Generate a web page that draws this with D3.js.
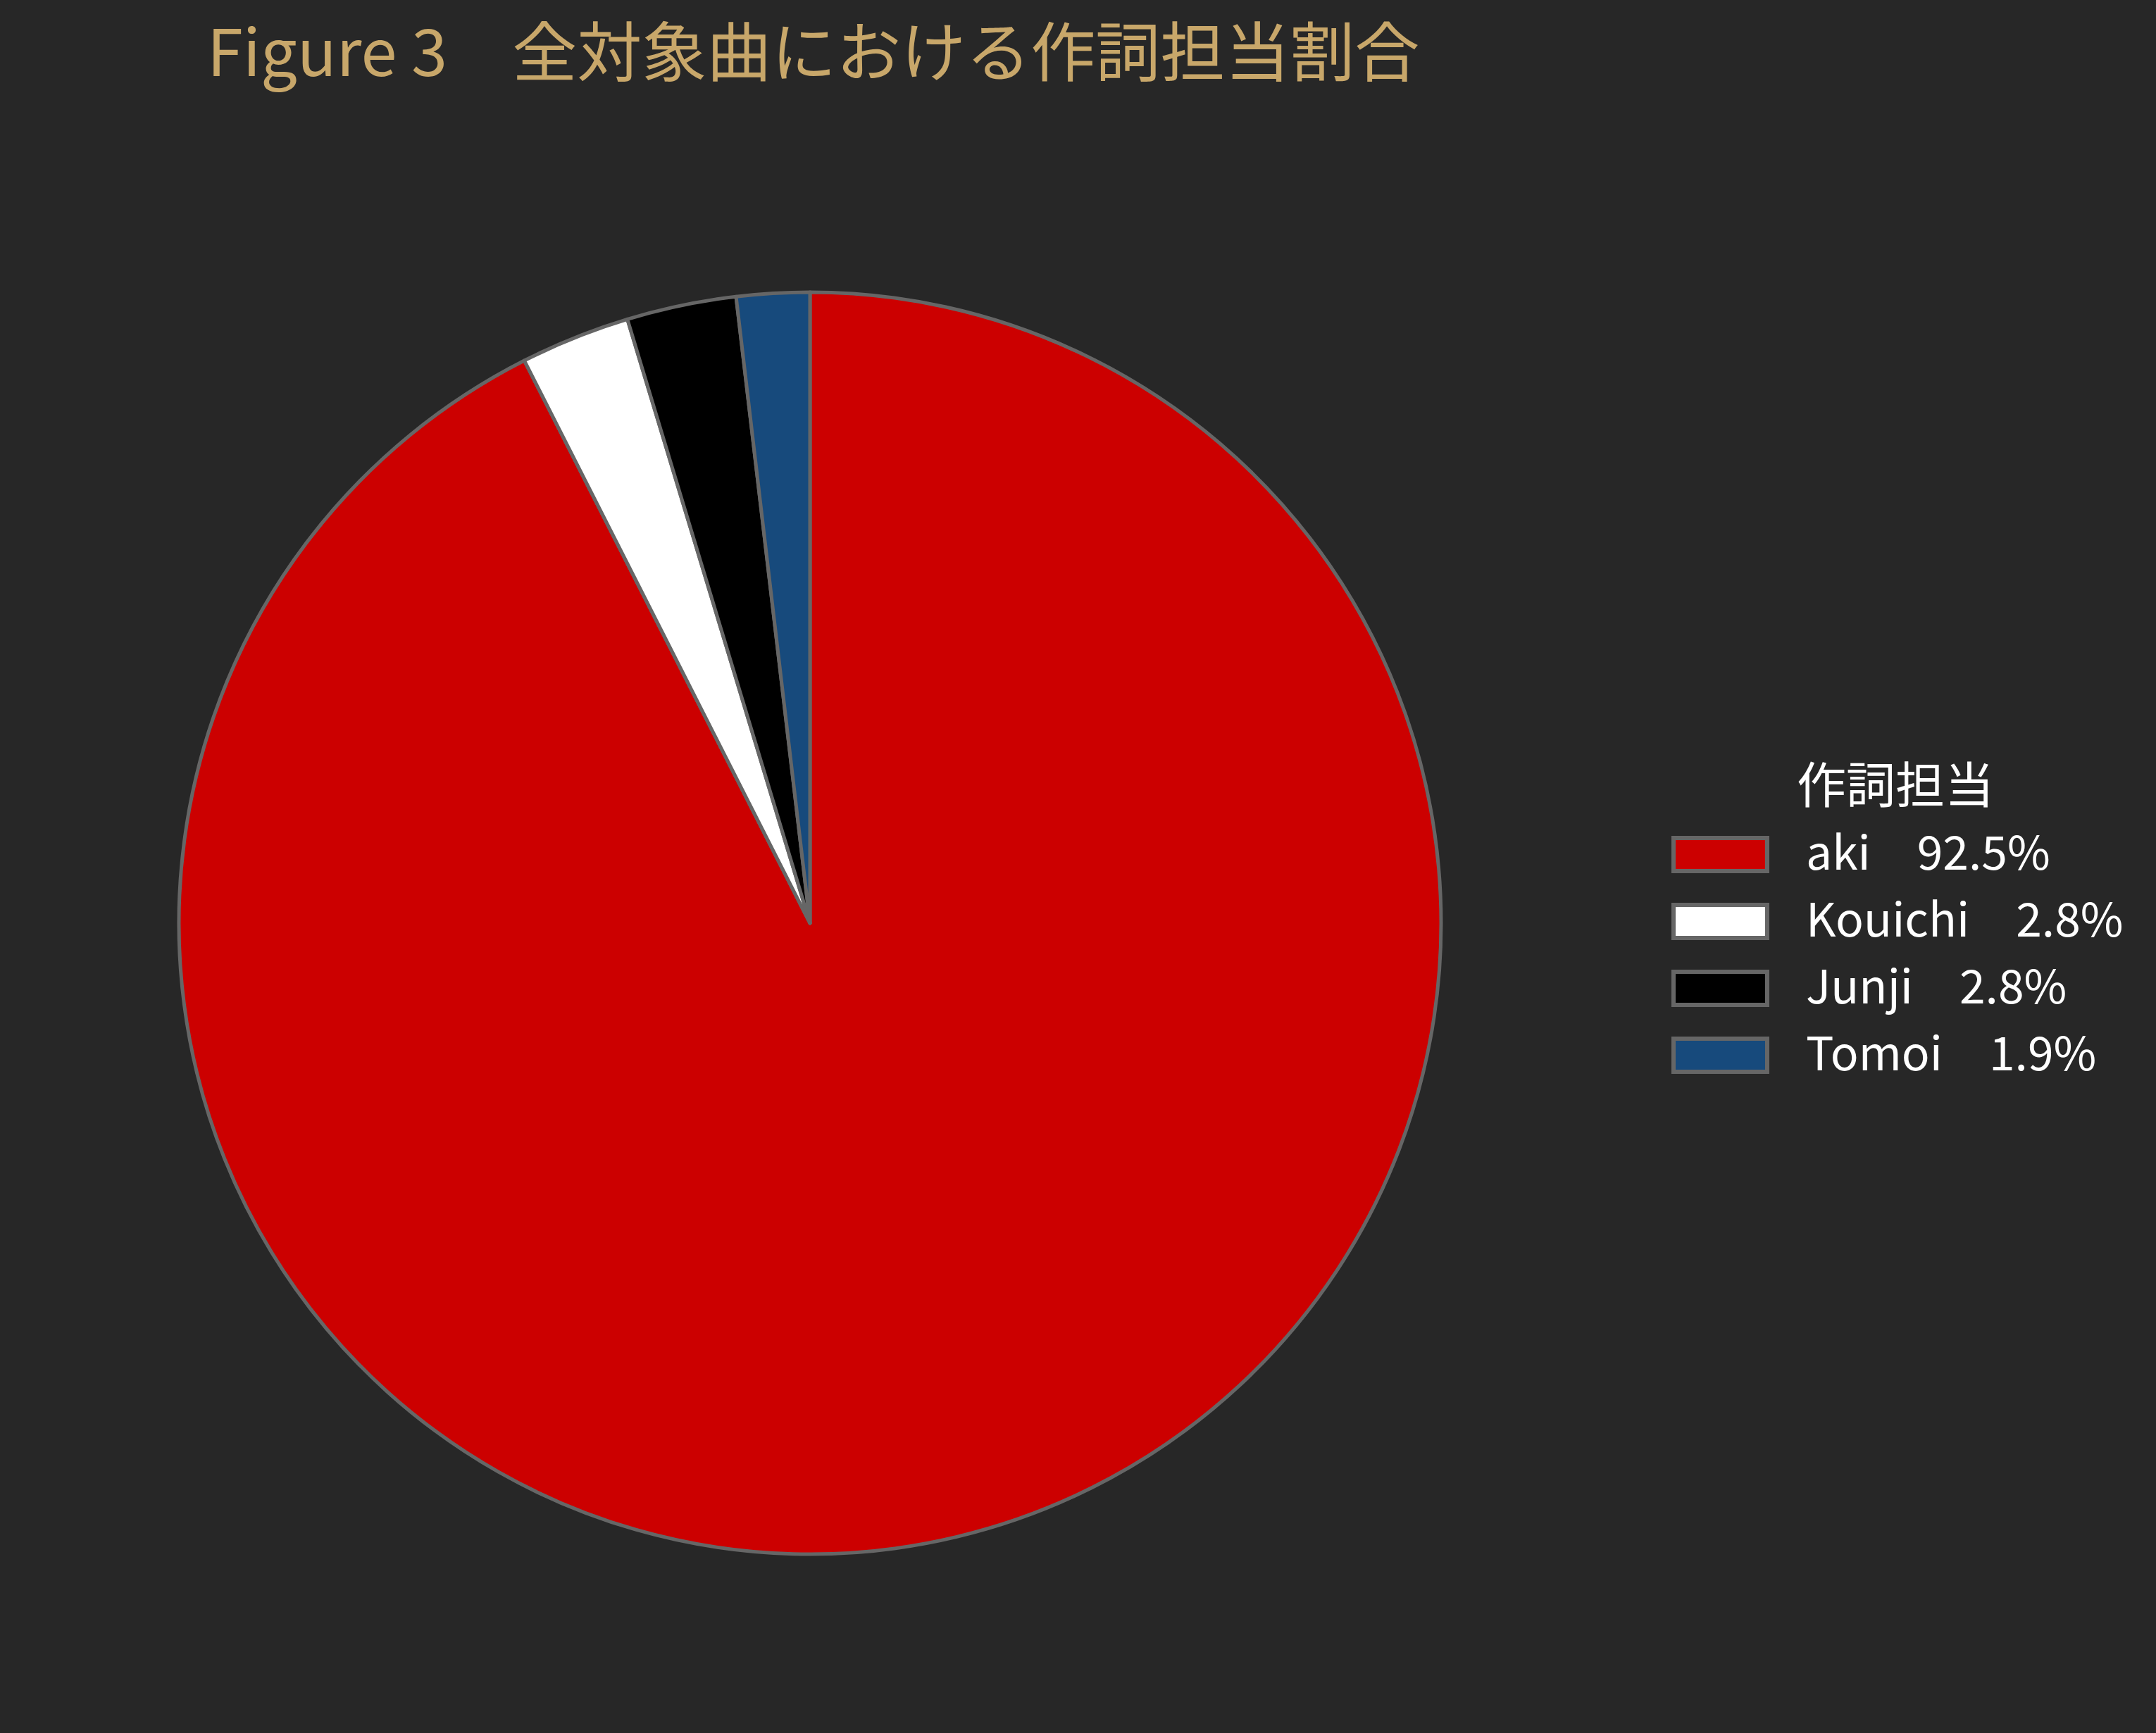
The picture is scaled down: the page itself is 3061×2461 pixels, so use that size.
<!DOCTYPE html>
<html><head><meta charset="utf-8">
<script src="https://cdn.jsdelivr.net/npm/d3@7"></script>
<style>html,body{margin:0;padding:0;background:#272727;}</style>
</head><body>
<script>
const titleText = "Figure 3\u3000全対象曲における作詞担当割合";
const legendTitle = "作詞担当";
const categories = ["aki", "Kouichi", "Junji", "Tomoi"];
const counts = [99, 3, 3, 2];
const colors = ["#CC0000", "#FFFFFF", "#000000", "#174A7C"];

const W = 3061, H = 2461;
const font = "'Noto Sans CJK JP', 'Noto Sans', sans-serif";
const svg = d3.select("body").append("svg").attr("width", W).attr("height", H)
  .style("background", "#272727");

svg.append("text").attr("x", 294).attr("y", 108)
  .attr("fill", "#C8A76A").attr("font-family", font).attr("font-size", 92)
  .text(titleText);

const total = d3.sum(counts);
const data = categories.map((c, i) => ({name: c, value: counts[i], color: colors[i]}));
const pie = d3.pie().sort(null).value(d => d.value);
const arc = d3.arc().innerRadius(0).outerRadius(896);
const color = d3.scaleOrdinal().domain(categories).range(colors);

const g = svg.append("g").attr("transform", "translate(1150,1311)");
g.selectAll("path").data(pie(data)).join("path")
  .attr("d", arc).attr("fill", d => color(d.data.name))
  .attr("stroke", "#666666").attr("stroke-width", 5).attr("stroke-linejoin", "round");

const fmt = d3.format(".1f");
const lg = svg.append("g");
lg.append("text").attr("x", 2551).attr("y", 1141).attr("fill", "#FFFFFF")
  .attr("font-family", font).attr("font-size", 70).text(legendTitle);
const y = d3.scaleBand().domain(categories).range([1165, 1545]).paddingInner(0);
const rows = lg.selectAll("g.row").data(data).join("g").attr("class", "row")
  .attr("transform", d => `translate(0,${y(d.name)})`);
rows.append("rect").attr("x", 2376).attr("y", 25).attr("width", 133).attr("height", 47)
  .attr("fill", d => color(d.name)).attr("stroke", "#666666").attr("stroke-width", 6);
rows.append("text").attr("x", 2564).attr("y", 70).attr("fill", "#FFFFFF")
  .attr("font-family", font).attr("font-size", 66)
  .text(d => d.name + "\u3000" + fmt(d.value / total * 100) + "%");
</script>
</body></html>
